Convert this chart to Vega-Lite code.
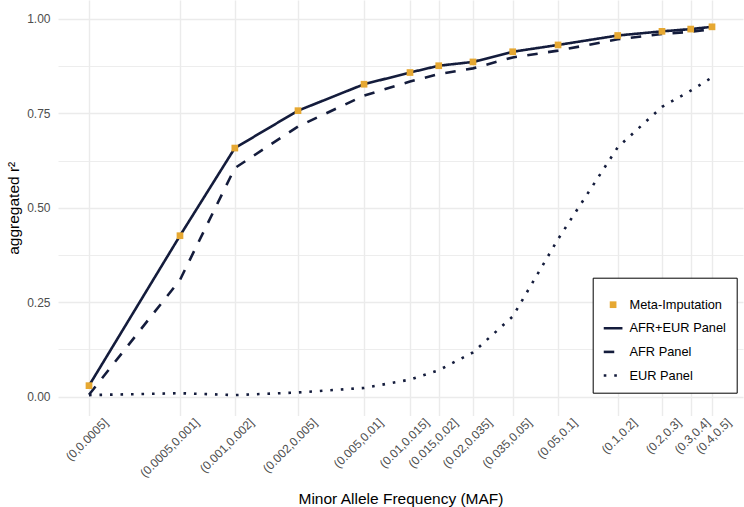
{
  "$schema": "https://vega.github.io/schema/vega-lite/v6.json",
  "width": 685,
  "height": 415.5,
  "autosize": {"type": "none"},
  "padding": {"left": 58, "top": 0, "right": 1, "bottom": 91.5},
  "background": "white",
  "config": {
    "view": {"stroke": null},
    "font": "Liberation Sans",
    "axis": {
      "domain": false,
      "ticks": false,
      "tickSize": 0,
      "gridColor": "#EBEBEB",
      "labelColor": "#4D4D4D",
      "labelFont": "Liberation Sans",
      "titleFont": "Liberation Sans",
      "titleFontWeight": "normal",
      "titleColor": "#000000"
    }
  },
  "data": {
    "values": [
      {"bin": "(0,0.0005]", "maf": 0.00025, "series": "Meta-Imputation", "r2": 0.029},
      {"bin": "(0.0005,0.001]", "maf": 0.000747, "series": "Meta-Imputation", "r2": 0.426},
      {"bin": "(0.001,0.002]", "maf": 0.001445, "series": "Meta-Imputation", "r2": 0.658},
      {"bin": "(0.002,0.005]", "maf": 0.00309, "series": "Meta-Imputation", "r2": 0.757},
      {"bin": "(0.005,0.01]", "maf": 0.00684, "series": "Meta-Imputation", "r2": 0.827},
      {"bin": "(0.01,0.015]", "maf": 0.01189, "series": "Meta-Imputation", "r2": 0.858},
      {"bin": "(0.015,0.02]", "maf": 0.0168, "series": "Meta-Imputation", "r2": 0.876},
      {"bin": "(0.02,0.035]", "maf": 0.02536, "series": "Meta-Imputation", "r2": 0.886},
      {"bin": "(0.035,0.05]", "maf": 0.0409, "series": "Meta-Imputation", "r2": 0.913},
      {"bin": "(0.05,0.1]", "maf": 0.0706, "series": "Meta-Imputation", "r2": 0.931},
      {"bin": "(0.1,0.2]", "maf": 0.1447, "series": "Meta-Imputation", "r2": 0.956},
      {"bin": "(0.2,0.3]", "maf": 0.2465, "series": "Meta-Imputation", "r2": 0.967},
      {"bin": "(0.3,0.4]", "maf": 0.3483, "series": "Meta-Imputation", "r2": 0.973},
      {"bin": "(0.4,0.5]", "maf": 0.45, "series": "Meta-Imputation", "r2": 0.979},

      {"bin": "(0,0.0005]", "maf": 0.00025, "series": "AFR+EUR Panel", "r2": 0.029},
      {"bin": "(0.0005,0.001]", "maf": 0.000747, "series": "AFR+EUR Panel", "r2": 0.426},
      {"bin": "(0.001,0.002]", "maf": 0.001445, "series": "AFR+EUR Panel", "r2": 0.658},
      {"bin": "(0.002,0.005]", "maf": 0.00309, "series": "AFR+EUR Panel", "r2": 0.757},
      {"bin": "(0.005,0.01]", "maf": 0.00684, "series": "AFR+EUR Panel", "r2": 0.827},
      {"bin": "(0.01,0.015]", "maf": 0.01189, "series": "AFR+EUR Panel", "r2": 0.858},
      {"bin": "(0.015,0.02]", "maf": 0.0168, "series": "AFR+EUR Panel", "r2": 0.876},
      {"bin": "(0.02,0.035]", "maf": 0.02536, "series": "AFR+EUR Panel", "r2": 0.886},
      {"bin": "(0.035,0.05]", "maf": 0.0409, "series": "AFR+EUR Panel", "r2": 0.913},
      {"bin": "(0.05,0.1]", "maf": 0.0706, "series": "AFR+EUR Panel", "r2": 0.931},
      {"bin": "(0.1,0.2]", "maf": 0.1447, "series": "AFR+EUR Panel", "r2": 0.956},
      {"bin": "(0.2,0.3]", "maf": 0.2465, "series": "AFR+EUR Panel", "r2": 0.967},
      {"bin": "(0.3,0.4]", "maf": 0.3483, "series": "AFR+EUR Panel", "r2": 0.973},
      {"bin": "(0.4,0.5]", "maf": 0.45, "series": "AFR+EUR Panel", "r2": 0.979},

      {"bin": "(0,0.0005]", "maf": 0.00025, "series": "AFR Panel", "r2": 0.005},
      {"bin": "(0.0005,0.001]", "maf": 0.000747, "series": "AFR Panel", "r2": 0.309},
      {"bin": "(0.001,0.002]", "maf": 0.001445, "series": "AFR Panel", "r2": 0.605},
      {"bin": "(0.002,0.005]", "maf": 0.00309, "series": "AFR Panel", "r2": 0.715},
      {"bin": "(0.005,0.01]", "maf": 0.00684, "series": "AFR Panel", "r2": 0.797},
      {"bin": "(0.01,0.015]", "maf": 0.01189, "series": "AFR Panel", "r2": 0.834},
      {"bin": "(0.015,0.02]", "maf": 0.0168, "series": "AFR Panel", "r2": 0.854},
      {"bin": "(0.02,0.035]", "maf": 0.02536, "series": "AFR Panel", "r2": 0.869},
      {"bin": "(0.035,0.05]", "maf": 0.0409, "series": "AFR Panel", "r2": 0.898},
      {"bin": "(0.05,0.1]", "maf": 0.0706, "series": "AFR Panel", "r2": 0.916},
      {"bin": "(0.1,0.2]", "maf": 0.1447, "series": "AFR Panel", "r2": 0.946},
      {"bin": "(0.2,0.3]", "maf": 0.2465, "series": "AFR Panel", "r2": 0.96},
      {"bin": "(0.3,0.4]", "maf": 0.3483, "series": "AFR Panel", "r2": 0.966},
      {"bin": "(0.4,0.5]", "maf": 0.45, "series": "AFR Panel", "r2": 0.973},

      {"bin": "(0,0.0005]", "maf": 0.00025, "series": "EUR Panel", "r2": 0.004},
      {"bin": "(0.0005,0.001]", "maf": 0.000747, "series": "EUR Panel", "r2": 0.009},
      {"bin": "(0.001,0.002]", "maf": 0.001445, "series": "EUR Panel", "r2": 0.004},
      {"bin": "(0.002,0.005]", "maf": 0.00309, "series": "EUR Panel", "r2": 0.011},
      {"bin": "(0.005,0.01]", "maf": 0.00684, "series": "EUR Panel", "r2": 0.023},
      {"bin": "(0.01,0.015]", "maf": 0.01189, "series": "EUR Panel", "r2": 0.045},
      {"bin": "(0.015,0.02]", "maf": 0.0168, "series": "EUR Panel", "r2": 0.07},
      {"bin": "(0.02,0.035]", "maf": 0.02536, "series": "EUR Panel", "r2": 0.117},
      {"bin": "(0.035,0.05]", "maf": 0.0409, "series": "EUR Panel", "r2": 0.212},
      {"bin": "(0.05,0.1]", "maf": 0.0706, "series": "EUR Panel", "r2": 0.417},
      {"bin": "(0.1,0.2]", "maf": 0.1447, "series": "EUR Panel", "r2": 0.66},
      {"bin": "(0.2,0.3]", "maf": 0.2465, "series": "EUR Panel", "r2": 0.767},
      {"bin": "(0.3,0.4]", "maf": 0.3483, "series": "EUR Panel", "r2": 0.81},
      {"bin": "(0.4,0.5]", "maf": 0.45, "series": "EUR Panel", "r2": 0.845}
    ]
  },
  "layer": [
    {
      "transform": [{"filter": "datum.series !== 'Meta-Imputation'"}],
      "mark": {"type": "line", "strokeWidth": 2.6, "strokeCap": "butt"},
      "encoding": {
        "x": {
          "field": "maf",
          "type": "quantitative",
          "scale": {"type": "log", "domain": [0.00017217, 0.65336], "nice": false},
          "axis": {
            "values": [0.00025, 0.000747, 0.001445, 0.00309, 0.00684, 0.01189, 0.0168, 0.02536, 0.0409, 0.0706, 0.1447, 0.2465, 0.3483, 0.45],
            "labelExpr": "['(0,0.0005]','(0.0005,0.001]','(0.001,0.002]','(0.002,0.005]','(0.005,0.01]','(0.01,0.015]','(0.015,0.02]','(0.02,0.035]','(0.035,0.05]','(0.05,0.1]','(0.1,0.2]','(0.2,0.3]','(0.3,0.4]','(0.4,0.5]'][indexof([0.00025,0.000747,0.001445,0.00309,0.00684,0.01189,0.0168,0.02536,0.0409,0.0706,0.1447,0.2465,0.3483,0.45], datum.value)]",
            "labelAngle": -45,
            "labelAlign": "right",
            "labelBaseline": "top",
            "labelPadding": 1,
            "labelOffset": 13,
            "labelFontSize": 12,
            "labelOverlap": false,
            "labelFlush": false,
            "labelBound": false,
            "grid": true,
            "gridWidth": 1.4,
            "title": "Minor Allele Frequency (MAF)",
            "titleFontSize": 15.5,
            "titlePadding": 12
          }
        },
        "y": {
          "field": "r2",
          "type": "quantitative",
          "scale": {"domain": [-0.05, 1.05], "nice": false, "zero": false},
          "axis": {
            "values": [0, 0.125, 0.25, 0.375, 0.5, 0.625, 0.75, 0.875, 1],
            "labelExpr": "(datum.value * 4) % 1 === 0 ? format(datum.value, '.2f') : ''",
            "labelFontSize": 12,
            "labelPadding": 8,
            "grid": true,
            "gridWidth": {"condition": {"test": "(datum.value * 4) % 1 !== 0", "value": 0.9}, "value": 1.4},
            "title": "aggregated r²",
            "titleFontSize": 15.5,
            "titlePadding": 5
          }
        },
        "color": {
          "field": "series",
          "type": "nominal",
          "scale": {
            "domain": ["Meta-Imputation", "AFR+EUR Panel", "AFR Panel", "EUR Panel"],
            "range": ["#E6A832", "#141C3C", "#141C3C", "#141C3C"]
          },
          "legend": {
            "orient": "none",
            "legendX": 534.7,
            "legendY": 277.7,
            "title": " ",
            "titleFontSize": 6,
            "titlePadding": 4.6,
            "padding": 10,
            "rowPadding": 9.6,
            "symbolSize": 350,
            "symbolOffset": 4,
            "labelFontSize": 12.8,
            "labelColor": "#000000",
            "labelFont": "Liberation Sans",
            "labelOffset": 10,
            "fillColor": "#FFFFFF",
            "strokeColor": "#000000",
            "encode": {
              "symbols": {
                "update": {
                  "shape": {"signal": "datum.value === 'Meta-Imputation' ? 'square' : 'stroke'"},
                  "size": {"signal": "datum.value === 'Meta-Imputation' ? 45 : 350"},
                  "fill": {"signal": "datum.value === 'Meta-Imputation' ? '#E6A832' : 'transparent'"},
                  "stroke": {"signal": "datum.value === 'Meta-Imputation' ? 'transparent' : '#141C3C'"},
                  "strokeWidth": {"signal": "datum.value === 'Meta-Imputation' ? 0 : 2.6"},
                  "strokeDash": {"signal": "datum.value === 'AFR Panel' ? [10.5, 10.5] : (datum.value === 'EUR Panel' ? [2.6, 7.9] : [1, 0])"},
                  "strokeCap": {"value": "butt"},
                  "opacity": {"value": 1}
                }
              }
            }
          }
        },
        "strokeDash": {
          "field": "series",
          "type": "nominal",
          "scale": {
            "domain": ["AFR+EUR Panel", "AFR Panel", "EUR Panel"],
            "range": [[1, 0], [10.5, 10.5], [2.6, 7.9]]
          },
          "legend": null
        }
      }
    },
    {
      "transform": [{"filter": "datum.series === 'Meta-Imputation'"}],
      "mark": {"type": "point", "shape": "square", "filled": true, "size": 45, "opacity": 1},
      "encoding": {
        "x": {"field": "maf", "type": "quantitative"},
        "y": {"field": "r2", "type": "quantitative"},
        "color": {"field": "series", "type": "nominal"}
      }
    }
  ]
}
